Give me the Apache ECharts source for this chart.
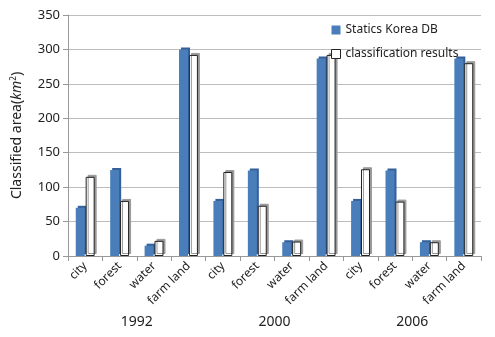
<!DOCTYPE html>
<html>
<head>
<meta charset="utf-8">
<script src="https://cdn.jsdelivr.net/npm/echarts@6/dist/echarts.min.js"></script>
<style>
  html, body { margin: 0; padding: 0; background: #fff; }
  #main { width: 495px; height: 337px; }
</style>
</head>
<body>
<div id="main"></div>
<script>
// land cover classes, repeated for each survey year
var classes = ['city', 'forest', 'water', 'farm land'];
var years = ['1992', '2000', '2006'];
var categories = [];
years.forEach(function () { categories = categories.concat(classes); });

// values in km2
var staticsKorea = [70, 125, 15, 300,  80, 124, 20, 287,  80, 124, 20, 287];
var classified   = [115, 80, 22, 292, 122, 73, 21, 292, 126, 79, 20, 280];

var yTicks = { min: 0, max: 350, interval: 50 };

var font = '"Noto Sans", "DejaVu Sans", sans-serif';
var flat = { shadowColor: 'rgba(0,0,0,0)', shadowBlur: 0, shadowOffsetX: 0, shadowOffsetY: 0 };

var option = {
    animation: false,
    textStyle: { fontFamily: font },
    legend: {
        data: [
            { name: 'Statics Korea DB', icon: 'rect', itemStyle: flat },
            { name: 'classification results', icon: 'rect',
              itemStyle: Object.assign({ borderColor: '#222', borderWidth: 1 }, flat) }
        ],
        orient: 'vertical',
        left: 326,
        top: 19,
        itemWidth: 9,
        itemHeight: 9,
        itemGap: 12,
        textStyle: { fontSize: 12, color: '#222' }
    },
    grid: {
        left: 68,
        right: 14,
        top: 15,
        bottom: 81
    },
    xAxis: [
        {
            type: 'category',
            data: categories,
            axisLine: { lineStyle: { color: '#999' } },
            axisTick: { show: true, lineStyle: { color: '#999' } },
            axisLabel: { rotate: 45, interval: 0, fontSize: 12, color: '#222', margin: 8 }
        },
        {
            type: 'category',
            data: years,
            position: 'bottom',
            offset: 51,
            axisLine: { show: false },
            axisTick: { show: false },
            axisLabel: { fontSize: 14, color: '#222' }
        }
    ],
    yAxis: {
        type: 'value',
        min: yTicks.min,
        max: yTicks.max,
        interval: yTicks.interval,
        name: 'Classified area({i|km}{s|2})',
        nameLocation: 'middle',
        nameGap: 44,
        nameRotate: 90,
        nameTextStyle: {
            fontSize: 14,
            color: '#222',
            rich: {
                i: { fontStyle: 'italic', fontSize: 14, color: '#222' },
                s: { fontSize: 8, verticalAlign: 'top', color: '#222' }
            }
        },
        axisLine: { show: true, lineStyle: { color: '#999' } },
        axisTick: { show: true, lineStyle: { color: '#999' } },
        axisLabel: { fontSize: 13, color: '#222' },
        splitLine: { lineStyle: { color: '#bdbdbd' } }
    },
    series: [
        {
            name: 'Statics Korea DB',
            type: 'bar',
            barWidth: 9,
            barGap: '10%',
            data: staticsKorea,
            itemStyle: {
                color: '#4a7ebb',
                shadowColor: '#35609a',
                shadowBlur: 0,
                shadowOffsetX: 2,
                shadowOffsetY: -2
            }
        },
        {
            name: 'classification results',
            type: 'bar',
            barWidth: 9,
            data: classified,
            itemStyle: {
                color: '#ffffff',
                borderColor: '#222',
                borderWidth: 1,
                shadowColor: '#9a9a9a',
                shadowBlur: 0,
                shadowOffsetX: 2,
                shadowOffsetY: -2
            }
        }
    ]
};

var myChart = echarts.init(document.getElementById('main'));
myChart.setOption(option);
</script>
</body>
</html>
